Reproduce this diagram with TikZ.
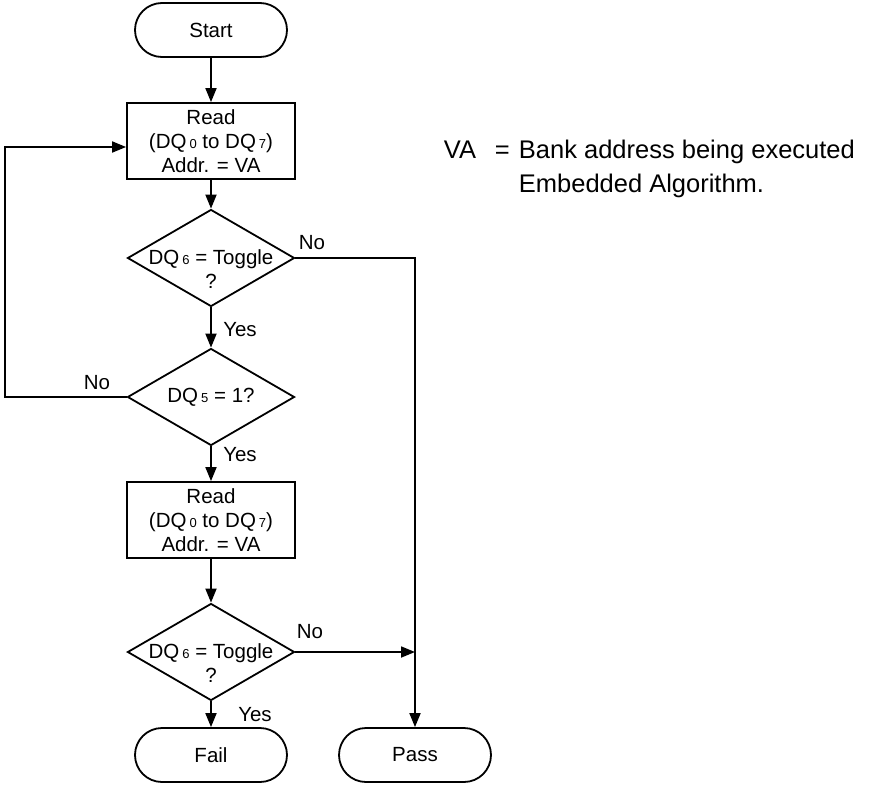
\documentclass[tikz,border=0pt]{standalone}
\usepackage{fontspec}
\setmainfont{Liberation Sans}
\usepackage{tikz}
\usetikzlibrary{shapes, arrows, positioning, calc}
\usetikzlibrary{arrows.meta}
\newcommand{\dqi}[1]{\hspace{3pt}{\fontsize{13}{13}\selectfont #1}}

\begin{document}
\begin{tikzpicture}[
    x=1pt, y=-1pt,
    line width=1.8pt,
    every node/.style={font=\fontsize{20.5}{24}\selectfont},
    terminal/.style={rectangle, draw, rounded corners=27pt, minimum width=152pt, minimum height=54pt, inner sep=0pt},
    process/.style={rectangle, draw, minimum width=168pt, minimum height=76pt, inner sep=0pt, align=center},
    decision/.style={diamond, draw, minimum width=167pt, minimum height=97pt, inner sep=0pt},
    lbl/.style={inner sep=0pt},
    note/.style={inner sep=0pt, anchor=base west, align=left, font=\fontsize{25.5}{34}\selectfont},
    flow/.style={-{Triangle[length=14pt, width=11pt]}}
]
\useasboundingbox (0,0) rectangle (870,787);

% main column
\node[terminal] (start) at (211,30) {Start};
\node[process] (read1) at (211,141) {Read\\(DQ\dqi{0} to DQ\dqi{7})\\Addr. = VA};
\node[decision, label={[lbl, align=center, yshift=-11pt]center:{DQ\dqi{6} = Toggle\\?}}] (tog1) at (211,258) {};
\node[decision, label={[lbl]center:{DQ\dqi{5} = 1?}}] (dq5) at (211,397) {};
\node[process] (read2) at (211,520) {Read\\(DQ\dqi{0} to DQ\dqi{7})\\Addr. = VA};
\node[decision, label={[lbl, align=center, yshift=-11pt]center:{DQ\dqi{6} = Toggle\\?}}] (tog2) at (211,652) {};
\node[terminal] (fail) at (211,755) {Fail};
\node[terminal] (pass) at (415,755) {Pass};

\coordinate (join) at (415,652);
\coordinate (loop) at (5,397);

% connectors
\draw[flow] (start) -- (read1);
\draw[flow] (read1) -- (tog1);
\draw[flow] (tog1) -- (dq5);
\draw[flow] (dq5) -- (read2);
\draw[flow] (read2) -- (tog2);
\draw[flow] (tog2) -- (fail);
\draw[flow] (tog1.east) -| (pass.north);
\draw[flow] (tog2.east) -- (join);
\draw[flow] (dq5.west) -- (loop) |- ([yshift=-6pt]read1.west);

% branch labels
\node[lbl] (no1) at (312,243) {No};
\node[lbl] (yes1) at (240,330) {Yes};
\node[lbl] (no2) at (97,383) {No};
\node[lbl] (yes2) at (240,455) {Yes};
\node[lbl] (no3) at (310,632) {No};
\node[lbl] (yes3) at (255,715) {Yes};

% legend
\node[note] (vaKey) at (443,158) {VA};
\node[note] (vaEq) at (494,158) {=};
\node[note] (vaText) at (518,192) {Bank address being executed\\Embedded Algorithm.};
\end{tikzpicture}
\end{document}
